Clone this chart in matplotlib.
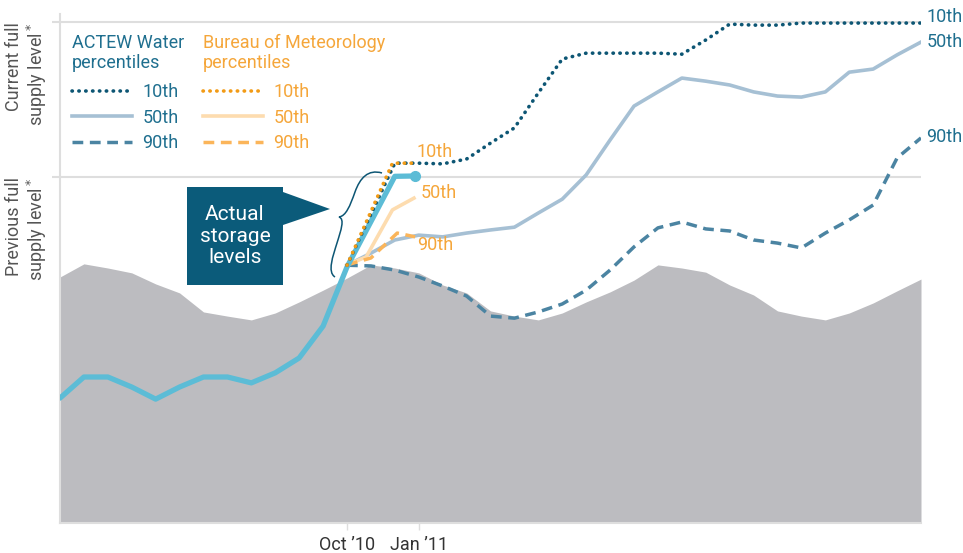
import numpy as np
import matplotlib.pyplot as plt
from matplotlib.patches import Polygon, PathPatch
from matplotlib.path import Path
from matplotlib.transforms import Affine2D

plt.rcParams['font.family'] = ['Roboto', 'DejaVu Sans']

# x: months since Oct 2009, y: storage as % of previous full supply level
months = np.arange(37)
history = [71.1, 74.9, 73.7, 72.3, 69.1, 66.5, 61.0, 59.8, 58.7, 60.7, 63.9, 67.3,
           70.8, 74.6, 73.7, 72.3, 68.8, 66.5, 61.3, 59.8, 58.7, 60.7, 63.9, 66.8,
           70.2, 74.6, 73.7, 72.5, 68.8, 65.9, 61.3, 59.8, 58.7, 60.7, 63.6, 67.1, 70.5]

actual_x = list(range(13)) + [14, 14.85]
actual = [36.1, 42.2, 42.2, 39.3, 35.8, 39.3, 42.2, 42.2, 40.5, 43.4, 47.7, 56.9,
          74.0, 100.2, 100.3]

fc_x = [12] + list(range(14, 37))
actew_10 = [74.5, 104.0, 104.0, 103.8, 105.2, 109.8, 114.2, 124.3, 134.1, 135.8,
            135.8, 135.8, 135.8, 135.5, 139.6, 144.2, 143.9, 143.9, 144.5, 144.5,
            144.5, 144.5, 144.5, 144.5]
fc50_x = list(range(12, 37))
actew_50 = [74.5, 78.0, 81.8, 83.2, 82.7, 83.8, 84.7, 85.5, 89.6, 93.6, 100.6,
            110.7, 120.5, 124.6, 128.6, 127.7, 126.6, 124.6, 123.4, 123.1, 124.6,
            130.3, 131.2, 135.3, 139.0]
actew_90 = [74.5, 74.3, 73.1, 71.1, 68.5, 65.6, 59.8, 59.2, 61.0, 63.3, 67.3, 73.1,
            79.8, 85.3, 87.0, 85.0, 84.4, 81.8, 80.9, 79.5, 83.8, 87.6, 91.9,
            105.5, 111.3]

bom10_x, bom_10 = [12, 13.9, 14.85], [74.5, 104.0, 104.0]
bom50_x, bom_50 = [12, 12.8, 13.9, 14.8], [74.6, 76.9, 90.5, 93.9]
bom90_x, bom_90 = [12, 13.0, 14.1, 14.85], [74.6, 76.6, 83.8, 82.7]

prev_fsl, curr_fsl = 100, 144.8
tick_pos = [12, 15]
tick_labels = ['Oct \u201910', 'Jan \u201911']
pct_labels = ['10th', '50th', '90th']

navy = '#0d5674'
pale = '#a6c0d4'
steel = '#4b84a2'
teal_txt = '#1f6f8f'
orange = '#f29b16'
peach = '#fddcaf'
lt_orange = '#fbb55a'
or_txt = '#f5a63a'
grid_c = '#dedede'

fig = plt.figure(figsize=(9.63, 5.53), dpi=100)
ax = fig.add_axes([60 / 963, 30 / 553, 861 / 963, 508.6 / 553])
ax.set_xlim(0, 36)
ax.set_ylim(0, 147)

ax.fill_between(months, 0, history, color='#bcbcc0', lw=0, zorder=1)
for y in (prev_fsl, curr_fsl):
    ax.axhline(y, color=grid_c, lw=1.5, zorder=0)

dot = (0, (0.1, 1.8))
dash = (0, (3.1, 1.9))
l10, = ax.plot(fc_x, actew_10, color=navy, lw=2.6, ls=dot, dash_capstyle='round', zorder=4)
l50, = ax.plot(fc50_x, actew_50, color=pale, lw=2.6, zorder=3)
l90, = ax.plot(fc50_x, actew_90, color=steel, lw=2.5, ls=dash, zorder=3)
b50, = ax.plot(bom50_x, bom_50, color=peach, lw=2.6, zorder=3)
b90, = ax.plot(bom90_x, bom_90, color=lt_orange, lw=2.5, ls=dash, zorder=3)
ax.plot(actual_x, actual, color='#5cbcd6', lw=3.8, solid_capstyle='round', zorder=3.5)
ax.plot(actual_x[-1:], actual[-1:], 'o', color='#5cbcd6', ms=7, zorder=3.5)
b10, = ax.plot(bom10_x, bom_10, color=orange, lw=2.6, ls=dot, dash_capstyle='round', zorder=4.5)

# end labels
for txt, ys, dy in (('10th', actew_10, 4.5), ('50th', actew_50, 0), ('90th', actew_90, 0.5)):
    ax.annotate(txt, (36, ys[-1]), xytext=(4, dy), textcoords='offset points',
                color=teal_txt, fontsize=13, va='center', ha='left', annotation_clip=False)
for txt, xs, ys, dx, dy in (('10th', bom10_x, bom_10, 1, 8),
                            ('50th', bom50_x, bom_50, 4.5, 3.5),
                            ('90th', bom90_x, bom_90, 1.5, -6)):
    ax.annotate(txt, (xs[-1], ys[-1]), xytext=(dx, dy), textcoords='offset points',
                color=or_txt, fontsize=13, va='center', ha='left')

# legends (headers drawn as separate text)
kw = dict(frameon=False, loc='upper left', fontsize=13,
          handlelength=3.3, handletextpad=0.6, labelspacing=0.42, borderpad=0,
          borderaxespad=0, bbox_transform=fig.transFigure)
leg1 = ax.legend([l10, l50, l90], pct_labels, bbox_to_anchor=(72 / 963, 1 - 83 / 553),
                 labelcolor=teal_txt, **kw)
ax.add_artist(leg1)
ax.legend([b10, b50, b90], pct_labels, bbox_to_anchor=(203 / 963, 1 - 83 / 553),
          labelcolor=or_txt, **kw)
fig.text(72 / 963, 1 - 34 / 553, 'ACTEW Water\npercentiles', color=teal_txt,
         fontsize=13, va='top', ha='left', linespacing=1.12)
fig.text(203 / 963, 1 - 34 / 553, 'Bureau of Meteorology\npercentiles', color=or_txt,
         fontsize=13, va='top', ha='left', linespacing=1.12)

# callout, pixel coordinates from top-left of figure
pix = Affine2D().scale(1 / 963, -1 / 553).translate(0, 1) + fig.transFigure
box = Polygon([(187, 187), (283, 187), (283, 192), (330, 209), (283, 225),
               (283, 285), (187, 285)], closed=True, facecolor='#0b5b7a',
              edgecolor='none', transform=pix, zorder=6)
fig.add_artist(box)
fig.text(235 / 963, 1 - 236 / 553, 'Actual\nstorage\nlevels', color='white',
         ha='center', va='center', fontsize=15, linespacing=1.15,
         family=['Liberation Sans Narrow', 'Roboto'], zorder=7)
brace = Path([(382, 173), (368, 169), (360, 178), (355, 192),
              (350, 206), (346, 216), (339, 217),
              (345, 219), (341, 230), (337, 243),
              (333, 256), (327, 272), (335, 277)],
             [Path.MOVETO] + [Path.CURVE4] * 12)
fig.add_artist(PathPatch(brace, facecolor='none', edgecolor=navy, lw=1.1, transform=pix))

# axis labels
for y_px, txt in ((22, 'Current full\nsupply level$^*$'), (177, 'Previous full\nsupply level$^*$')):
    fig.text(27 / 963, 1 - y_px / 553, txt, rotation=90, ha='center', va='top',
             multialignment='right', fontsize=13, color='#555555', linespacing=1.1)

for s in ('top', 'right'):
    ax.spines[s].set_visible(False)
for s in ('left', 'bottom'):
    ax.spines[s].set_color(grid_c)
    ax.spines[s].set_linewidth(1.5)
ax.set_xticks(tick_pos, tick_labels)
ax.tick_params(axis='x', length=5, color=grid_c, width=1, labelsize=13,
               labelcolor='#333333', pad=4)
ax.set_yticks([prev_fsl, curr_fsl], ['', ''])
ax.tick_params(axis='y', length=6, color=grid_c, width=1.5)

fig.savefig('out.png', dpi=100)
